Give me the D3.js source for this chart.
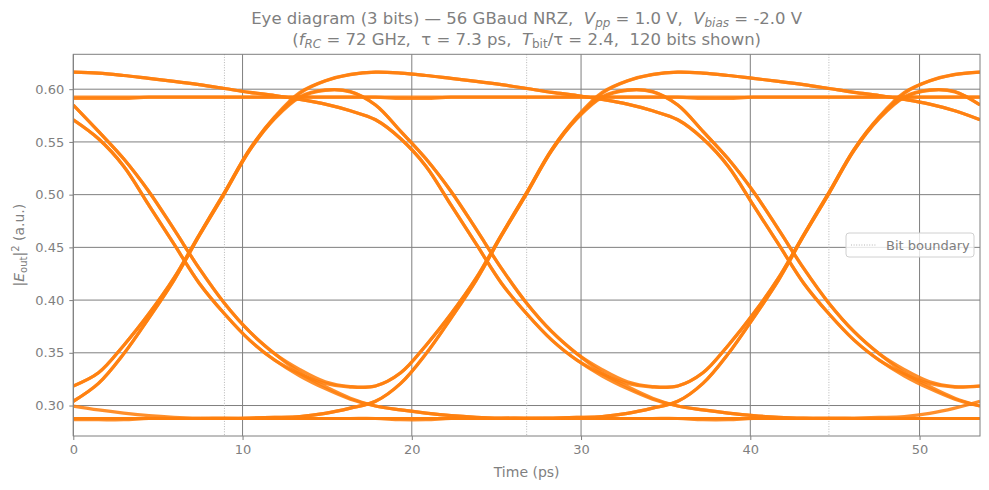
<!DOCTYPE html>
<html>
<head>
<meta charset="utf-8">
<script src="https://cdn.jsdelivr.net/npm/d3@7"></script>
<style>
  body { margin: 0; background: #fff; }
  svg text { font-family: "DejaVu Sans", sans-serif; fill: #7f7f7f; white-space: pre; }
</style>
</head>
<body>
<svg id="eye" width="989" height="490"></svg>
<script>
// bit period and the window shown (3 bits, centre to centre)
var bitPeriod = 17.857;
var nWindows = 3;
var bitBoundaries = [8.929, 26.786, 44.643];

// sample times inside one bit slot (ps)
var slotTimes = [0, 1.488, 2.976, 4.464, 5.952, 7.440, 8.929, 10.417, 11.905, 13.393, 14.881, 16.369, 17.857];

// |E_out|^2 for each kind of slot
var hiFlat = [0.5924, 0.5924, 0.5924, 0.5924, 0.5924, 0.5924, 0.5924, 0.5924, 0.5924, 0.5924, 0.5924, 0.5924, 0.5924];
var hiStep = [0.5913, 0.5913, 0.5913, 0.5924, 0.5924, 0.5924, 0.5924, 0.5924, 0.5924, 0.5924, 0.5924, 0.5924, 0.5924];
var loFlat = [0.2877, 0.2877, 0.2877, 0.2877, 0.2877, 0.2877, 0.2877, 0.2877, 0.2877, 0.2877, 0.2877, 0.2877, 0.2877];
var loStep = [0.2865, 0.2865, 0.2865, 0.2877, 0.2877, 0.2877, 0.2877, 0.2877, 0.2877, 0.2877, 0.2877, 0.2877, 0.2877];
var topDecay = [0.6162, 0.6153, 0.6130, 0.6102, 0.6074, 0.6043, 0.6007, 0.5970, 0.5940, 0.5903, 0.5858, 0.5795, 0.5710];
var fallTopMin = [0.5710, 0.5530, 0.5270, 0.4900, 0.4530, 0.4160, 0.3870, 0.3620, 0.3430, 0.3300, 0.3210, 0.3175, 0.3185];
var fallTopLow = [0.5710, 0.5530, 0.5270, 0.4900, 0.4530, 0.4160, 0.3870, 0.3620, 0.3430, 0.3280, 0.3160, 0.3060, 0.2995];
var fallHumpMin = [0.5850, 0.5600, 0.5340, 0.5030, 0.4670, 0.4300, 0.3970, 0.3700, 0.3490, 0.3340, 0.3225, 0.3180, 0.3185];
var fallHumpLow = [0.5850, 0.5600, 0.5340, 0.5030, 0.4670, 0.4300, 0.3970, 0.3700, 0.3490, 0.3310, 0.3180, 0.3070, 0.2995];
var riseMinTop = [0.3185, 0.3310, 0.3570, 0.3870, 0.4210, 0.4620, 0.5020, 0.5430, 0.5740, 0.5970, 0.6080, 0.6140, 0.6162];
var riseMinHump = [0.3185, 0.3310, 0.3570, 0.3870, 0.4210, 0.4620, 0.5020, 0.5430, 0.5730, 0.5930, 0.5993, 0.5978, 0.5850];
var riseLowTop = [0.3040, 0.3210, 0.3490, 0.3830, 0.4190, 0.4610, 0.5010, 0.5420, 0.5730, 0.5962, 0.6077, 0.6138, 0.6162];
var riseLowHump = [0.3040, 0.3210, 0.3490, 0.3830, 0.4190, 0.4610, 0.5010, 0.5420, 0.5720, 0.5922, 0.5989, 0.5975, 0.5850];
var lowDecay = [0.2995, 0.2958, 0.2928, 0.2904, 0.2889, 0.2881, 0.2878, 0.2877, 0.2877, 0.2877, 0.2877, 0.2877, 0.2877];
var lowRise = [0.2877, 0.2877, 0.2877, 0.2877, 0.2877, 0.2877, 0.2878, 0.2881, 0.2887, 0.2896, 0.2925, 0.2975, 0.3040];

// which slots follow each other in the overlaid 3-bit traces
var traces = [
  ["hiFlat", "hiFlat", "hiFlat"],
  ["hiStep", "hiStep", "hiStep"],
  ["loFlat", "loFlat", "loFlat"],
  ["loStep", "loStep", "loStep"],
  ["riseMinTop", "topDecay", "fallTopMin"],
  ["topDecay", "fallTopLow", "lowDecay"],
  ["fallTopMin", "riseMinHump", "fallHumpLow"],
  ["fallTopLow", "lowDecay", "lowRise"],
  ["fallHumpMin", "riseMinTop", "topDecay"],
  ["fallHumpLow", "lowDecay", "loFlat"],
  ["riseMinHump", "fallHumpMin", "riseMinTop"],
  ["riseLowTop", "topDecay", "fallTopLow"],
  ["riseLowHump", "fallHumpLow", "lowDecay"],
  ["lowDecay", "lowRise", "riseLowTop"],
  ["lowRise", "riseLowHump", "fallHumpMin"],
  ["loFlat", "lowRise", "riseLowHump"],
  ["lowRise", "riseLowTop", "topDecay"],
  ["topDecay", "fallTopMin", "riseMinHump"]
];

var xTicks = [0, 10, 20, 30, 40, 50];
var yTicks = [0.30, 0.35, 0.40, 0.45, 0.50, 0.55, 0.60];

var slots = {hiFlat: hiFlat, hiStep: hiStep, loFlat: loFlat, loStep: loStep, topDecay: topDecay,
  fallTopMin: fallTopMin, fallTopLow: fallTopLow, fallHumpMin: fallHumpMin, fallHumpLow: fallHumpLow,
  riseMinTop: riseMinTop, riseMinHump: riseMinHump, riseLowTop: riseLowTop, riseLowHump: riseLowHump,
  lowDecay: lowDecay, lowRise: lowRise};

var svg = d3.select("#eye");
var plotLeft = 73.3, plotRight = 980, plotTop = 54.3, plotBottom = 436;
var grey = "#7f7f7f";
var nb = "\u00a0"; // keeps the double spaces of the title

var x = d3.scaleLinear().domain([0, bitPeriod * nWindows]).range([plotLeft, plotRight]);
var y = d3.scaleLinear().domain([0.2711, 0.6331]).range([plotBottom, plotTop]);

svg.append("defs").append("clipPath").attr("id", "plotclip")
  .append("rect").attr("x", plotLeft).attr("y", plotTop)
  .attr("width", plotRight - plotLeft).attr("height", plotBottom - plotTop);

// grid
svg.append("g").selectAll("line").data(xTicks).join("line")
  .attr("x1", d => x(d)).attr("x2", d => x(d)).attr("y1", plotTop).attr("y2", plotBottom)
  .attr("stroke", grey).attr("stroke-width", 1);
svg.append("g").selectAll("line").data(yTicks).join("line")
  .attr("x1", plotLeft).attr("x2", plotRight).attr("y1", d => y(d)).attr("y2", d => y(d))
  .attr("stroke", grey).attr("stroke-width", 1);

// bit boundaries
svg.append("g").selectAll("line").data(bitBoundaries).join("line")
  .attr("x1", d => x(d)).attr("x2", d => x(d)).attr("y1", plotTop).attr("y2", plotBottom)
  .attr("stroke", "#b5b5b5").attr("stroke-width", 1).attr("stroke-dasharray", "1,1.6");

// build each trace from its three slots
function tracePoints(names) {
  var pts = [];
  names.forEach((name, w) => {
    slots[name].forEach((v, i) => {
      if (w > 0 && i === 0) return;
      pts.push([w * bitPeriod + slotTimes[i], v]);
    });
  });
  return pts;
}

var line = d3.line().x(d => x(d[0])).y(d => y(d[1])).curve(d3.curveCatmullRom.alpha(0.5));

svg.append("g").attr("clip-path", "url(#plotclip)")
  .selectAll("path").data(traces).join("path")
  .attr("d", d => line(tracePoints(d)))
  .attr("fill", "none").attr("stroke", "#ff7f0e").attr("stroke-width", 3.2)
  .attr("stroke-opacity", 0.88).attr("stroke-linejoin", "round");

// frame
svg.append("rect").attr("x", plotLeft).attr("y", plotTop)
  .attr("width", plotRight - plotLeft).attr("height", plotBottom - plotTop)
  .attr("fill", "none").attr("stroke", grey).attr("stroke-width", 1);

// axes
var xAxis = svg.append("g").attr("transform", "translate(0," + plotBottom + ")")
  .call(d3.axisBottom(x).tickValues(xTicks).tickSize(4).tickPadding(5).tickFormat(d3.format("d")));
var yAxis = svg.append("g").attr("transform", "translate(" + plotLeft + ",0)")
  .call(d3.axisLeft(y).tickValues(yTicks).tickSize(4).tickPadding(5).tickFormat(d3.format(".2f")));
[xAxis, yAxis].forEach(a => {
  a.attr("font-size", 13).attr("font-family", "DejaVu Sans");
  a.select(".domain").remove();
  a.selectAll("line").attr("stroke", grey);
  a.selectAll("text").attr("fill", grey);
});

// axis titles
svg.append("text").attr("x", (plotLeft + plotRight) / 2).attr("y", 477).attr("text-anchor", "middle")
  .attr("font-size", 14).text("Time (ps)");

var yl = svg.append("text").attr("transform", "translate(24," + ((plotTop + plotBottom) / 2) + ") rotate(-90)")
  .attr("text-anchor", "middle").attr("font-size", 14);
yl.append("tspan").text("|");
yl.append("tspan").attr("font-style", "italic").text("E");
yl.append("tspan").attr("font-size", 10).attr("dy", 3).text("out");
yl.append("tspan").attr("dy", -3).text("|");
yl.append("tspan").attr("font-size", 10).attr("dy", -5).text("2");
yl.append("tspan").attr("dy", 5).text(" (a.u.)");

// title
var t1 = svg.append("text").attr("x", (plotLeft + plotRight) / 2).attr("y", 24).attr("text-anchor", "middle")
  .attr("font-size", 16.5);
t1.append("tspan").text("Eye diagram (3 bits) \u2014 56 GBaud NRZ," + nb + nb);
t1.append("tspan").attr("font-style", "italic").text("V");
t1.append("tspan").attr("font-style", "italic").attr("font-size", 12).attr("dy", 3).text("pp");
t1.append("tspan").attr("dy", -3).text(" = 1.0 V," + nb + nb);
t1.append("tspan").attr("font-style", "italic").text("V");
t1.append("tspan").attr("font-style", "italic").attr("font-size", 12).attr("dy", 3).text("bias");
t1.append("tspan").attr("dy", -3).text(" = -2.0 V");

var t2 = svg.append("text").attr("x", (plotLeft + plotRight) / 2).attr("y", 45).attr("text-anchor", "middle")
  .attr("font-size", 16.5);
t2.append("tspan").text("(");
t2.append("tspan").attr("font-style", "italic").text("f");
t2.append("tspan").attr("font-style", "italic").attr("font-size", 12).attr("dy", 3).text("RC");
t2.append("tspan").attr("dy", -3).text(" = 72 GHz," + nb + nb + "\u03c4 = 7.3 ps," + nb + nb);
t2.append("tspan").attr("font-style", "italic").text("T");
t2.append("tspan").attr("font-size", 12).attr("dy", 3).text("bit");
t2.append("tspan").attr("dy", -3).text("/\u03c4 = 2.4," + nb + nb + "120 bits shown)");

// legend
var lg = svg.append("g");
lg.append("rect").attr("x", 846).attr("y", 233).attr("width", 128).attr("height", 24).attr("rx", 3)
  .attr("fill", "#fff").attr("fill-opacity", 0.8).attr("stroke", "#d0d0d0").attr("stroke-width", 1);
lg.append("line").attr("x1", 851).attr("x2", 877).attr("y1", 245).attr("y2", 245)
  .attr("stroke", "#b5b5b5").attr("stroke-width", 1).attr("stroke-dasharray", "1,1.6");
lg.append("text").attr("x", 886).attr("y", 249.5).attr("font-size", 13).text("Bit boundary");
</script>
</body>
</html>
